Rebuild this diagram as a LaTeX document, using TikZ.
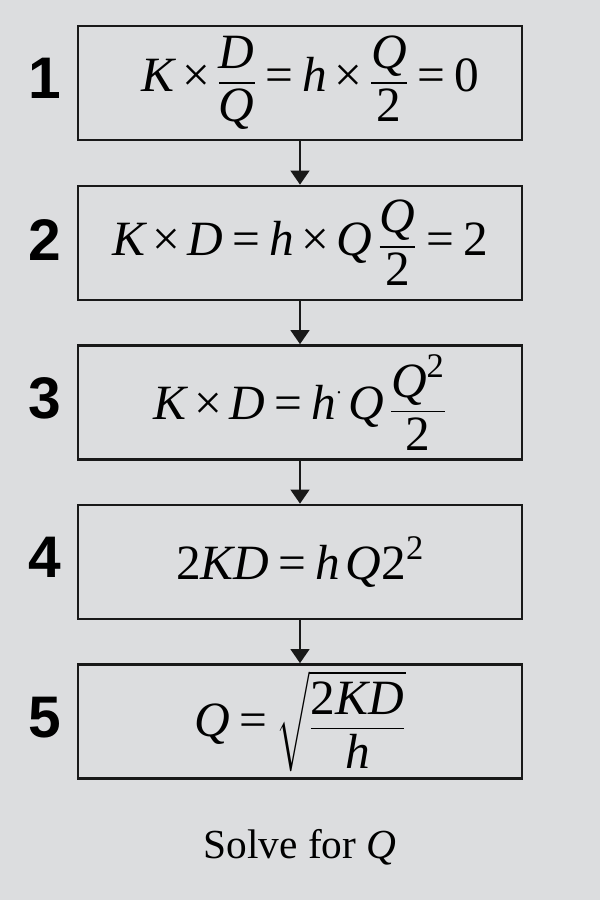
\documentclass[tikz,border=0pt]{standalone}
\usepackage{amsmath}
\usepackage{fontspec}
\setmainfont{Liberation Serif}
\newfontfamily\stepnumfont{Liberation Sans}
\usetikzlibrary{arrows.meta}

\definecolor{pagegray}{RGB}{220,221,223}
\newcommand{\vi}[1]{\text{\itshape #1}}
\newcommand{\vn}[1]{\text{\upshape #1}}
\newcommand{\teq}{\mathrel{\text{\upshape =}}}
\newcommand{\ttimes}{\mathbin{\text{\upshape ×}}}
\newcommand{\eqfrac}[2]{\genfrac{}{}{1.3pt}{0}{#1}{#2}}

\begin{document}
\begin{tikzpicture}[x=0.75pt,y=0.75pt,yscale=-1,xscale=1,
  stepbox/.style={draw=black!90, line width=2pt, minimum width=333pt, minimum height=85.5pt, inner sep=0pt, font=\fontsize{37}{40}\selectfont},
  stepnum/.style={inner sep=0pt, font=\stepnumfont\bfseries\fontsize{44}{46}\selectfont},
  steparrow/.style={line width=1.7pt, draw=black!90, -{Triangle[width=14pt,length=10.5pt]}}]

%Background
\fill [pagegray] (0,0) rectangle (600,900) ;
\useasboundingbox (0,0) rectangle (600,900) ;

%Shape: Boxes
\node [stepbox] (eqA) at (300,83) {$\displaystyle \hspace{16pt}\vi{K}\ttimes\eqfrac{\vi{D}}{\vi{Q}}\teq\vi{h}\ttimes\eqfrac{\vi{Q}}{\vn{2}}\teq\vn{0}$};
\node [stepbox] (eqB) at (300,243) {$\displaystyle \vi{K}\ttimes \vi{D}\teq\vi{h}\ttimes \vi{Q}\,\eqfrac{\vi{Q}}{\vn{2}}\teq\vn{2}$};
\node [stepbox] (eqC) at (300,402.5) {$\displaystyle \vi{K}\ttimes \vi{D}\teq\vi{h}^{\scriptscriptstyle\cdot}\,\vi{Q}\,\eqfrac{\vi{Q}^{\vn{2}}}{\vn{2}}$};
\node [stepbox] (eqD) at (300,562) {$\displaystyle \vn{2}\vi{KD}\teq\vi{h}\,\vi{Q}\vn{2}^{\vn{2}}$};
\node [stepbox] (eqE) at (300,721.5) {$\displaystyle \vi{Q}\teq\sqrt{\eqfrac{\vn{2}\vi{KD}}{\vi{h}}}$};

% Text Node
\node [stepnum] (numA) at (45,78) {1};
\node [stepnum] (numB) at (45,240) {2};
\node [stepnum] (numC) at (45,398) {3};
\node [stepnum] (numD) at (45,557) {4};
\node [stepnum] (numE) at (45,718) {5};

% Text Node
\node [font=\fontsize{31}{34}\selectfont] (solveQ) at (300,847) {Solve for \textit{Q}};

%Straight Lines
\draw [steparrow] (eqA.south) -- (eqB.north) ;
\draw [steparrow] (eqB.south) -- (eqC.north) ;
\draw [steparrow] (eqC.south) -- (eqD.north) ;
\draw [steparrow] (eqD.south) -- (eqE.north) ;

\end{tikzpicture}
\end{document}
